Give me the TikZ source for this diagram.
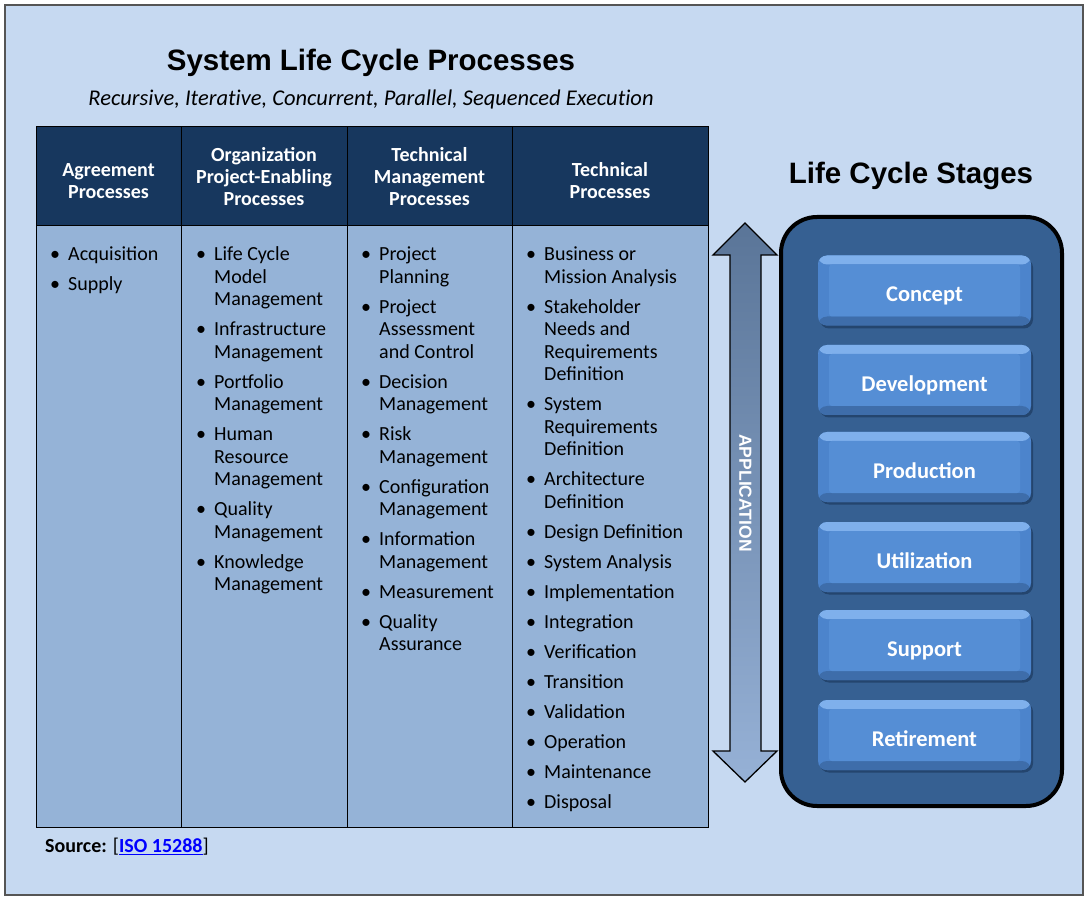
\documentclass[tikz,border=0pt]{standalone}
\usepackage{fontspec}
\setmainfont{Carlito}
\newfontfamily\arialf{Liberation Sans}
\newfontfamily\subf[Ligatures=NoCommon]{Carlito}
\definecolor{bgc}{HTML}{C6D9F1}
\definecolor{framec}{HTML}{555555}
\definecolor{hdrc}{HTML}{17375E}
\definecolor{bodyc}{HTML}{95B3D7}
\definecolor{contc}{HTML}{366092}
\definecolor{stageface}{HTML}{558ED5}
\definecolor{stagetop}{HTML}{7FB0EC}
\definecolor{stageside}{HTML}{4C84CC}
\definecolor{stagebot}{HTML}{3E6DAA}
\definecolor{stageshadow}{HTML}{24456E}
\definecolor{arrowtop}{HTML}{5A7598}
\definecolor{arrowbot}{HTML}{96B1D6}
\definecolor{linkc}{HTML}{0000FF}
\begin{document}
\begin{tikzpicture}[x=1pt,y=-1pt,
  hdr/.style={text=white, align=center, inner sep=0pt, font={\fontsize{20}{22}\selectfont\bfseries}},
  blist/.style={anchor=north west, align=left, inner sep=0pt, font={\fontsize{20}{22.5}\selectfont}},
  stagebox/.style={minimum width=213pt, minimum height=70pt, inner sep=0pt, rounded corners=9pt,
     fill=stageside, text=white, text height=23pt, text depth=0.5pt,
     font={\fontsize{22.5}{26}\selectfont\bfseries},
     path picture={
       \fill[stagetop] (path picture bounding box.north west) rectangle ([yshift=-9pt]path picture bounding box.north east);
       \fill[stagebot] ([yshift=9pt]path picture bounding box.south west) rectangle (path picture bounding box.south east);
       \fill[stageface, rounded corners=3pt] ([xshift=11pt,yshift=-9pt]path picture bounding box.north west) rectangle ([xshift=-11pt,yshift=9pt]path picture bounding box.south east);
     }},
  stageshade/.style={minimum width=213pt, minimum height=70pt, inner sep=0pt, rounded corners=9pt, fill=stageshadow}
]
\useasboundingbox (0,0) rectangle (1088,901);
% background frame
\fill[bgc] (5,5) rectangle (1083,895);
\draw[framec, line width=1.5pt] (5,5) rectangle (1083,895);

% titles
\node[font={\arialf\bfseries\fontsize{29.5}{34}\selectfont}] (title) at (371,63) {System Life Cycle Processes};
\node[font={\subf\fontsize{22.5}{26}\selectfont\itshape}] (subtitle) at (371,100) {Recursive, Iterative, Concurrent, Parallel, Sequenced Execution};
\node[font={\arialf\bfseries\fontsize{29.5}{34}\selectfont}] (stagestitle) at (911,176) {Life Cycle Stages};

% table
\fill[hdrc] (36,127) rectangle (708,225);
\fill[bodyc] (36,225) rectangle (708,827);
\draw[black, line width=0.8pt] (36,225) -- (708,225);
\foreach \xx in {181,347,512} {\draw[black, line width=0.8pt] (\xx,127) -- (\xx,827);}
\draw[black, line width=1pt] (36,127) rectangle (708,827);

\node[hdr] (h1) at (108.5,181) {Agreement\\Processes};
\node[hdr] (h2) at (264,177) {Organization\\Project-Enabling\\Processes};
\node[hdr] (h3) at (429.5,177) {Technical\\Management\\Processes};
\node[hdr] (h4) at (610,181) {Technical\\Processes};

\newcommand{\bul}{\makebox[18pt][l]{\strut•}}
\newcommand{\ind}{\hspace*{18pt}}

\node[blist] (l1) at (50,244.7) {\bul Acquisition\\[7.5pt]\bul Supply};
\node[blist] (l2) at (196,244.7) {\bul Life Cycle\\\ind Model\\\ind Management\\[7.5pt]
\bul Infrastructure\\\ind Management\\[7.5pt]
\bul Portfolio\\\ind Management\\[7.5pt]
\bul Human\\\ind Resource\\\ind Management\\[7.5pt]
\bul Quality\\\ind Management\\[7.5pt]
\bul Knowledge\\\ind Management};
\node[blist] (l3) at (361,244.7) {\bul Project\\\ind Planning\\[7.5pt]
\bul Project\\\ind Assessment\\\ind and Control\\[7.5pt]
\bul Decision\\\ind Management\\[7.5pt]
\bul Risk\\\ind Management\\[7.5pt]
\bul Configuration\\\ind Management\\[7.5pt]
\bul Information\\\ind Management\\[7.5pt]
\bul Measurement\\[7.5pt]
\bul Quality\\\ind Assurance};
\node[blist] (l4) at (526,244.7) {\bul Business or\\\ind Mission Analysis\\[7.5pt]
\bul Stakeholder\\\ind Needs and\\\ind Requirements\\\ind Definition\\[7.5pt]
\bul System\\\ind Requirements\\\ind Definition\\[7.5pt]
\bul Architecture\\\ind Definition\\[7.5pt]
\bul Design Definition\\[7.5pt]
\bul System Analysis\\[7.5pt]
\bul Implementation\\[7.5pt]
\bul Integration\\[7.5pt]
\bul Verification\\[7.5pt]
\bul Transition\\[7.5pt]
\bul Validation\\[7.5pt]
\bul Operation\\[7.5pt]
\bul Maintenance\\[7.5pt]
\bul Disposal};

% application arrow
\draw[black, line width=1.3pt, top color=arrowtop, bottom color=arrowbot]
  (745,223) -- (777,255) -- (761,255) -- (761,751) -- (777,751) -- (745,782)
  -- (713,751) -- (730,751) -- (730,255) -- (713,255) -- cycle;
\node[rotate=-90, text=white, font={\arialf\bfseries\fontsize{17.5}{20}\selectfont}] (app) at (745.5,493) {APPLICATION};

% stages container
\draw[black, line width=4pt, fill=contc, rounded corners=36pt] (781,217) rectangle (1062,806);

\foreach \nm/\yy in {concept/291, development/380, production/467, utilization/557, support/645, retirement/735} {
  \node[stageshade] (\nm s) at (926.5,\yy+2.5) {};
}
\node[stagebox] (concept) at (924.5,290.5) {Concept};
\node[stagebox] (development) at (924.5,380) {Development};
\node[stagebox] (production) at (924.5,467) {Production};
\node[stagebox] (utilization) at (924.5,557) {Utilization};
\node[stagebox] (support) at (924.5,645) {Support};
\node[stagebox] (retirement) at (924.5,735) {Retirement};

% source
\node[anchor=base west, inner sep=0pt, font={\fontsize{20}{24}\selectfont}] (source) at (45,852.5)
  {\textbf{Source:} [\textcolor{linkc}{\underline{\textbf{ISO 15288}}}]};
\end{tikzpicture}
\end{document}
